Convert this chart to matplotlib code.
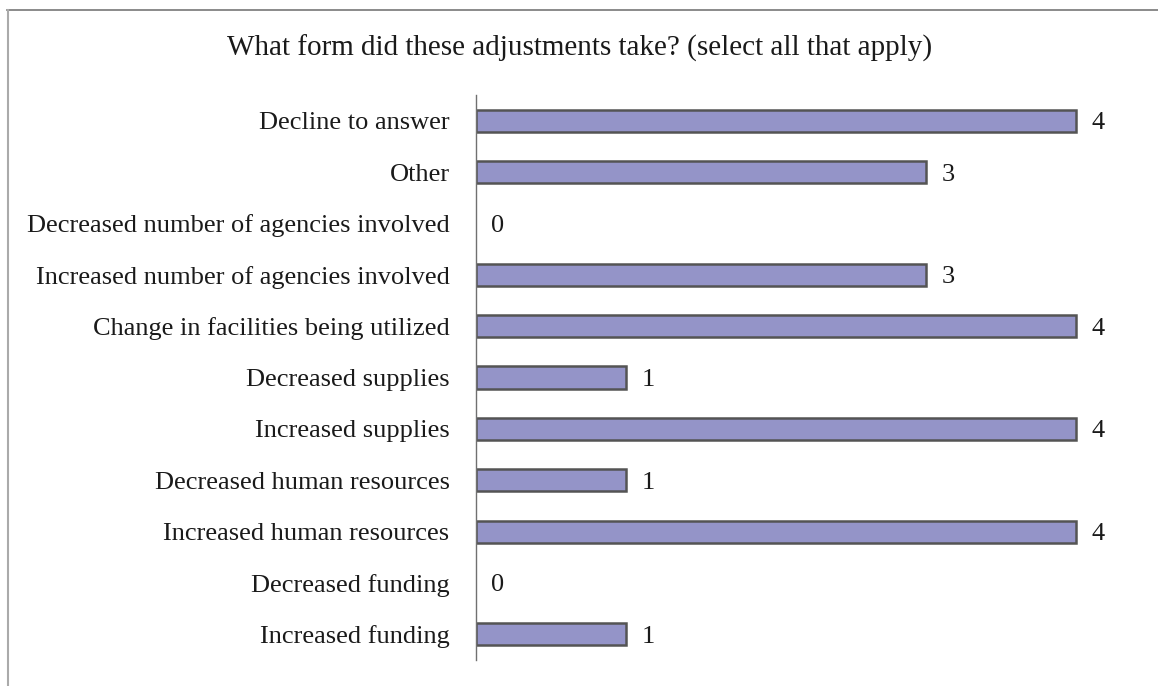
import matplotlib.pyplot as plt
from matplotlib.lines import Line2D

# survey responses, bottom to top
categories = [
    "Increased funding",
    "Decreased funding",
    "Increased human resources",
    "Decreased human resources",
    "Increased supplies",
    "Decreased supplies",
    "Change in facilities being utilized",
    "Increased number of agencies involved",
    "Decreased number of agencies involved",
    "Other",
    "Decline to answer",
]
counts = [1, 0, 4, 1, 4, 1, 4, 3, 0, 3, 4]

TITLE = "What form did these adjustments take? (select all that apply)"
BAR_COLOR = "#9494c8"
EDGE_COLOR = "#545454"

plt.rcParams['font.family'] = ['Liberation Serif', 'DejaVu Serif']

W, H = 1158, 686
fig = plt.figure(figsize=(W / 100, H / 100), dpi=100)

# axes placed in pixel terms
left, right, top, bottom = 476, 1100, 95, 660
ax = fig.add_axes([left / W, 1 - bottom / H, (right - left) / W, (bottom - top) / H])

y = range(len(categories))
ax.barh(y, counts, height=0.43, color=BAR_COLOR,
        edgecolor=[EDGE_COLOR if c else "none" for c in counts], linewidth=1.8)

unit_px = 150
ax.set_xlim(0, (right - left) / unit_px)
ax.set_ylim(-0.5, len(categories) - 0.5)

ax.set_yticks(list(y))
ax.set_yticklabels(categories, fontsize=19, color="#1a1a1a")
ax.tick_params(axis="y", length=0, pad=19)
ax.set_xticks([])

for s in ["top", "right", "bottom"]:
    ax.spines[s].set_visible(False)
ax.spines["left"].set_color("#707070")
ax.spines["left"].set_linewidth(1.0)

for yi, c in zip(y, counts):
    ax.annotate(str(c), (c, yi), xytext=(11, 0), textcoords="offset points",
                va="center_baseline", ha="left", fontsize=19, color="#1a1a1a")

fig.text(580 / W, 1 - 48 / H, TITLE, ha="center", va="center",
         fontsize=21, color="#1a1a1a")

# outer frame (top and left edges only)
fig.add_artist(Line2D([7 / W, 1], [1 - 10 / H, 1 - 10 / H],
                      transform=fig.transFigure, color="#777777", linewidth=1.2))
fig.add_artist(Line2D([8 / W, 8 / W], [1 - 10 / H, 0],
                      transform=fig.transFigure, color="#aaaaaa", linewidth=1.5))

fig.savefig("out.png", dpi=100)
